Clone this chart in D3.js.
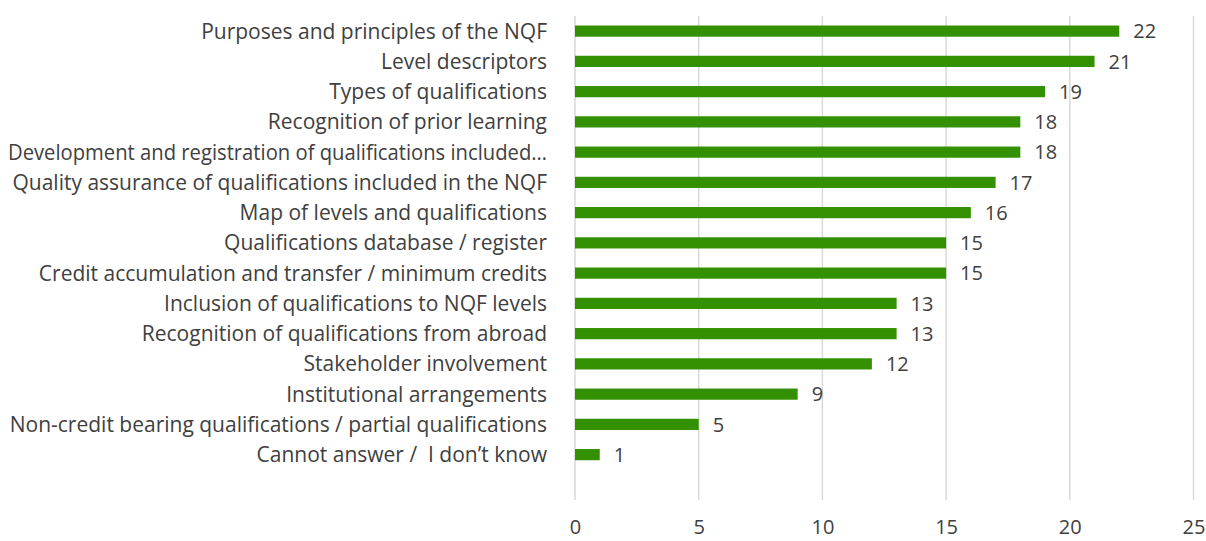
<!DOCTYPE html>
<html>
<head>
<meta charset="utf-8">
<script src="https://cdn.jsdelivr.net/npm/d3@7"></script>
<style>
  body { margin: 0; background: #fff; }
  svg text { font-family: "Open Sans", sans-serif; fill: #404040; white-space: pre; }
</style>
</head>
<body>
<svg id="chart"></svg>
<script>
// Topics and number of mentions
const topics = [
    "Purposes and principles of the NQF",
    "Level descriptors",
    "Types of qualifications",
    "Recognition of prior learning",
    "Development and registration of qualifications included…",
    "Quality assurance of qualifications included in the NQF",
    "Map of levels and qualifications",
    "Qualifications database / register",
    "Credit accumulation and transfer / minimum credits",
    "Inclusion of qualifications to NQF levels",
    "Recognition of qualifications from abroad",
    "Stakeholder involvement",
    "Institutional arrangements",
    "Non-credit bearing qualifications / partial qualifications",
    "Cannot answer /  I don’t know"
];
const counts = [22, 21, 19, 18, 18, 17, 16, 15, 15, 13, 13, 12, 9, 5, 1];
const xTicks = [0, 5, 10, 15, 20, 25];

const width = 1206, height = 541;
const plot = { left: 575, right: 1193.5, top: 16, bottom: 500 };
const labelRight = 547, labelMax = 539;

const svg = d3.select("#chart")
    .attr("width", width)
    .attr("height", height);

const x = d3.scaleLinear()
    .domain([0, 25])
    .range([plot.left, plot.right]);

// one empty slot is left at the bottom, like the original
const step = (plot.bottom - plot.top) / (topics.length + 1);
const y = d3.scaleBand()
    .domain(topics)
    .range([plot.top, plot.top + step * topics.length])
    .paddingInner(0.63)
    .paddingOuter(0.315);

// Gridlines
svg.append("g")
    .selectAll("line")
    .data(xTicks)
    .enter().append("line")
    .attr("x1", d => x(d))
    .attr("x2", d => x(d))
    .attr("y1", plot.top)
    .attr("y2", plot.bottom)
    .attr("stroke", "#d9d9d9")
    .attr("stroke-width", 1.5);

// Bars
svg.selectAll(".bar")
    .data(counts)
    .enter().append("rect")
    .attr("class", "bar")
    .attr("x", x(0))
    .attr("y", (d, i) => y(topics[i]))
    .attr("width", d => x(d) - x(0))
    .attr("height", y.bandwidth())
    .attr("fill", "#339000");

// Value labels
svg.selectAll(".value")
    .data(counts)
    .enter().append("text")
    .attr("class", "value")
    .attr("x", d => x(d) + 14)
    .attr("y", (d, i) => y(topics[i]) + y.bandwidth() / 2)
    .attr("dy", "0.36em")
    .style("font-size", "20px")
    .text(d => d);

// Category labels (squeeze any that would run past the left edge)
svg.append("g")
    .selectAll("text")
    .data(topics)
    .enter().append("text")
    .attr("x", labelRight)
    .attr("y", d => y(d) + y.bandwidth() / 2)
    .attr("dy", "0.36em")
    .attr("text-anchor", "end")
    .style("font-size", "21px")
    .text(d => d)
    .each(function () {
        if (this.getComputedTextLength() > labelMax) {
            d3.select(this)
                .attr("textLength", labelMax)
                .attr("lengthAdjust", "spacingAndGlyphs");
        }
    });

// X axis labels
const xAxis = svg.append("g")
    .attr("transform", `translate(0,${plot.bottom})`)
    .call(d3.axisBottom(x).tickValues(xTicks).tickSize(0).tickPadding(20));
xAxis.select(".domain").remove();
xAxis.selectAll("text")
    .style("font-size", "20px")
    .style("font-family", "'Open Sans', sans-serif")
    .attr("fill", "#404040");
</script>
</body>
</html>
